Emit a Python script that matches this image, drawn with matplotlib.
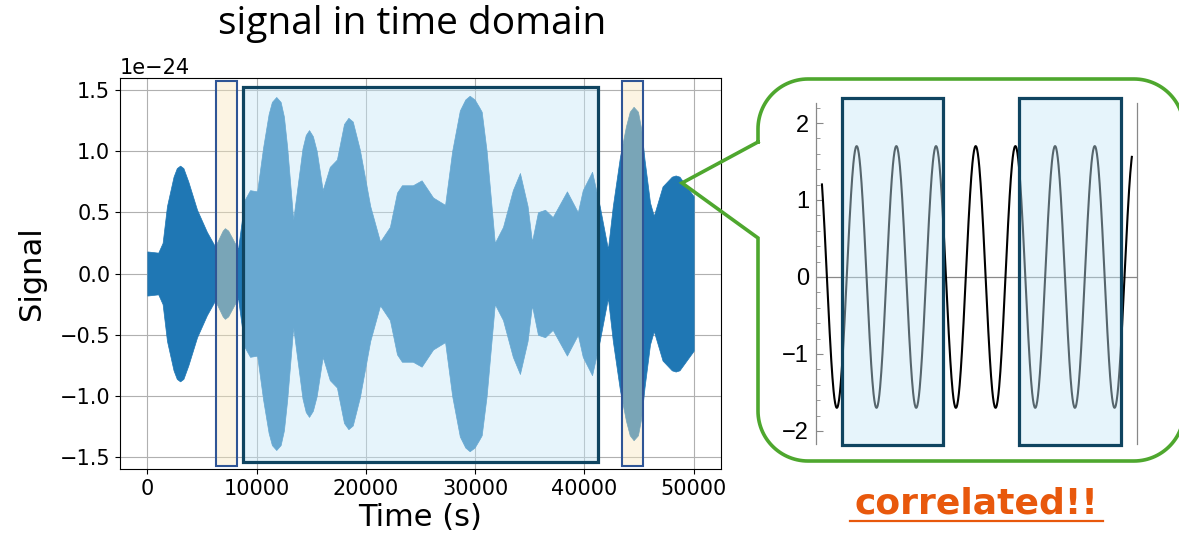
import numpy as np
import matplotlib
matplotlib.use("Agg")
import matplotlib.pyplot as plt
from matplotlib.patches import Rectangle

# envelope of the time-domain signal (units of 1e-24)
time_s = [0, 1000, 1400, 1800, 2400, 2700, 3000, 3300, 3750, 4550, 5450, 6200,
          6900, 7100, 7400, 8000, 8300, 8900, 9400, 10050, 10600, 11100, 11400, 11800,
          12200, 12500, 12800, 13350, 14200, 14500, 14800, 15150, 15500, 16050, 16700,
          17350, 18000, 18400, 18800, 19450, 20400, 21300, 22200, 22850, 23300, 24300,
          25100, 26150, 27250, 27900, 28600, 29100, 29500, 29950, 30350, 30600, 31050,
          31450, 31800, 32550, 33450, 34100, 34800, 35200, 35750, 36400, 37100, 38400,
          39400, 39850, 40700, 41400, 42150, 42600, 43250, 43800, 44150, 44500, 44900,
          45200, 45500, 46000, 46350, 47150, 48000, 48350, 48700, 49350, 50000]
envelope = [0.18, 0.17, 0.25, 0.55, 0.79, 0.86, 0.88, 0.86, 0.75, 0.52, 0.34, 0.22,
            0.35, 0.37, 0.35, 0.25, 0.20, 0.60, 0.68, 0.67, 1.03, 1.30, 1.40, 1.44,
            1.40, 1.28, 1.03, 0.44, 1.02, 1.13, 1.17, 1.12, 1.00, 0.68, 0.87,
            0.93, 1.22, 1.27, 1.24, 1.01, 0.55, 0.26, 0.38, 0.66, 0.72, 0.72,
            0.76, 0.62, 0.56, 1.00, 1.33, 1.42, 1.45, 1.42, 1.36, 1.32, 1.00,
            0.60, 0.25, 0.38, 0.68, 0.82, 0.55, 0.26, 0.50, 0.52, 0.46, 0.67,
            0.50, 0.68, 0.83, 0.55, 0.20, 0.55, 0.95, 1.20, 1.32, 1.36, 1.32,
            1.18, 0.93, 0.58, 0.47, 0.71, 0.79, 0.80, 0.79, 0.71, 0.63]
scale = 1e-24

# highlighted windows on the left plot (s)
window_main = (8775, 41220)
window_small = [(6300, 8230), (43420, 45340)]

# sine in the zoomed panel: amplitude, period, phase of first peak, drawn range
sine_amp = 1.70
sine_period = 1.0
sine_peak = 0.025
sine_range = (0.15, 7.96)
zoom_windows = [(0.655, 3.2), (5.11, 7.68)]

blue_fill = (198/255, 232/255, 248/255, 0.44)
yellow_fill = (248/255, 231/255, 189/255, 0.42)
dark_edge = "#0f4460"
yellow_edge = "#2f5596"
green = "#4ea72e"
orange = "#e8580c"

W, H = 1179, 542
fig = plt.figure(figsize=(W/100, H/100), dpi=100)

# ---- left: time domain signal
ax = fig.add_axes([120/W, 1-469/H, 601/W, 391/H])
t = np.array(time_s)
env = np.array(envelope) * scale
ax.fill_between(t, -env, env, color="#1f77b4", lw=0.5)
ax.grid(True)
ax.set_axisbelow(True)
ax.tick_params(labelsize=15)
ax.yaxis.get_offset_text().set_fontsize(15)
ax.set_xlabel("Time (s)", fontsize=22, labelpad=3)
ax.set_ylabel("Signal", fontsize=22, labelpad=10)
ax.set_xticks([0, 10000, 20000, 30000, 40000, 50000])

ax.add_patch(Rectangle((window_main[0], -1.54*scale), window_main[1]-window_main[0], 3.06*scale,
                       facecolor=blue_fill, edgecolor=dark_edge, lw=2.3, clip_on=False, zorder=3))
for a, b in window_small:
    ax.add_patch(Rectangle((a, -1.57*scale), b-a, 3.14*scale,
                           facecolor=yellow_fill, edgecolor=yellow_edge, lw=1.5, clip_on=False, zorder=3))

fig.text(412/W, 1-34/H, "signal in time domain", fontsize=28, family="Open Sans",
         ha="center", va="baseline")

# ---- right: zoomed sine
bx = fig.add_axes([816/W, 1-444/H, 321/W, 341/H])
ts = np.linspace(sine_range[0], sine_range[1], 800)
bx.plot(ts, sine_amp*np.cos(2*np.pi*(ts-sine_peak)/sine_period), color="black", lw=1.5)
bx.axhline(0, color="#888888", lw=0.9, zorder=0)
bx.set_xlim(0, 8.09)
bx.set_ylim(-2.17, 2.26)
for s in ["top", "bottom"]:
    bx.spines[s].set_visible(False)
for s in ["left", "right"]:
    bx.spines[s].set_color("#888888")
    bx.spines[s].set_linewidth(0.9)
bx.set_xticks([])
bx.set_yticks([-2, -1, 0, 1, 2])
bx.set_yticks(np.arange(-2.0, 2.21, 0.2), minor=True)
bx.set_yticklabels(["\u22122", "\u22121", "0", "1", "2"], family="Liberation Sans", fontsize=17)
bx.tick_params(axis="y", which="major", direction="in", length=5, color="#888888", pad=5)
bx.tick_params(axis="y", which="minor", direction="in", length=3, color="#888888")
for a, b in zoom_windows:
    bx.add_patch(Rectangle((a, -2.18), b-a, 4.5, facecolor=blue_fill, edgecolor=dark_edge,
                           lw=2.3, clip_on=False, zorder=3))

# ---- callout outline in pixel coordinates
ov = fig.add_axes([0, 0, 1, 1])
ov.set_xlim(0, W)
ov.set_ylim(H, 0)
ov.axis("off")
L, R, T, B, r = 758, 1184, 79, 461, 50
tip = (682, 183)
g1, g2 = 142, 238

def arc(cx, cy, a0, a1):
    th = np.radians(np.linspace(a0, a1, 30))
    return list(cx + r*np.cos(th)), list(cy + r*np.sin(th))

xs = [L, tip[0], L, L]
ys = [g1, tip[1], g2, B-r]
for cx, cy, a0, a1 in [(L+r, B-r, 180, 90), (R-r, B-r, 90, 0),
                       (R-r, T+r, 0, -90), (L+r, T+r, -90, -180)]:
    ax_, ay_ = arc(cx, cy, a0, a1)
    xs += ax_
    ys += ay_
xs.append(L)
ys.append(g1)
ov.plot(xs, ys, color=green, lw=2.6, solid_joinstyle="miter", clip_on=False)

ov.text(976, 513, "correlated!!", fontsize=26, family="DejaVu Sans", weight="bold",
        color=orange, ha="center", va="baseline")
ov.plot([850, 1103], [521, 521], color=orange, lw=1.6)

fig.savefig("out.png", dpi=100)
